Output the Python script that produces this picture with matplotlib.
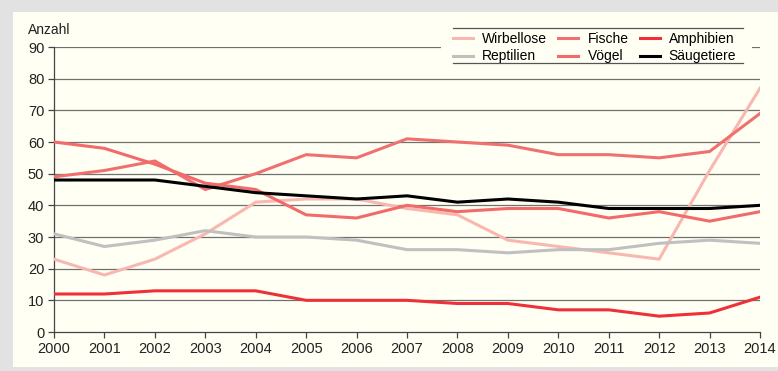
import matplotlib.pyplot as plt
from matplotlib.patches import Rectangle

plt.rcParams['font.family'] = ['Liberation Sans', 'DejaVu Sans']

years = list(range(2000, 2015))
wirbellose = [23, 18, 23, 31, 41, 42, 42, 39, 37, 29, 27, 25, 23, 51, 77]
reptilien = [31, 27, 29, 32, 30, 30, 29, 26, 26, 25, 26, 26, 28, 29, 28]
fische = [49, 51, 54, 45, 50, 56, 55, 61, 60, 59, 56, 56, 55, 57, 69]
voegel = [60, 58, 53, 47, 45, 37, 36, 40, 38, 39, 39, 36, 38, 35, 38]
amphibien = [12, 12, 13, 13, 13, 10, 10, 10, 9, 9, 7, 7, 5, 6, 11]
saeugetiere = [48, 48, 48, 46, 44, 43, 42, 43, 41, 42, 41, 39, 39, 39, 40]

W, H = 778, 371
fig = plt.figure(figsize=(W / 100, H / 100), dpi=100)
fig.patch.set_facecolor('#e2e2e2')
fig.patches.append(Rectangle((13 / W, 4 / H), (W - 13) / W, (H - 16) / H,
                             transform=fig.transFigure, facecolor='#fffff3',
                             edgecolor='none', zorder=-10))

ax = fig.add_axes([54 / W, 1 - 332 / H, (760 - 54) / W, (332 - 47) / H])
ax.set_zorder(1)
ax.set_facecolor('none')

for v in range(10, 100, 10):
    ax.axhline(v, color='#707070', lw=0.9, zorder=1)

series = [
    (wirbellose, 'Wirbellose', '#f8b8b0'),
    (reptilien, 'Reptilien', '#c0c0c0'),
    (fische, 'Fische', '#f07070'),
    (voegel, 'Vögel', '#f26a6a'),
    (amphibien, 'Amphibien', '#f03038'),
    (saeugetiere, 'Säugetiere', '#000000'),
]
for vals, name, col in series:
    ax.plot(years, vals, color=col, lw=2.2, label=name, zorder=3,
            solid_joinstyle='miter')

ax.set_xlim(2000, 2014)
ax.set_ylim(0, 90)
ax.set_xticks(years)
ax.set_yticks(range(0, 100, 10))
ax.tick_params(labelsize=10.5, color='#444444', length=4, width=0.9,
               labelcolor='#222222', pad=3)
for s in ['top', 'right']:
    ax.spines[s].set_visible(False)
for s in ['left', 'bottom']:
    ax.spines[s].set_color('#444444')
    ax.spines[s].set_linewidth(0.9)

fig.text(28 / W, 1 - 30 / H, 'Anzahl', fontsize=10, color='#222222',
         va='center', ha='left')

# legend box: cream background with rules above and below
fig.patches.append(Rectangle((441 / W, 1 - 66 / H), 311 / W, 40 / H,
                             transform=fig.transFigure, facecolor='#fffff3',
                             edgecolor='none', zorder=4))
for yy in (28, 63):
    fig.add_artist(plt.Line2D([453 / W, 743 / W], [1 - yy / H, 1 - yy / H],
                              color='#555555', lw=0.9,
                              transform=fig.transFigure, zorder=6))

handles, labels = ax.get_legend_handles_labels()
leg = fig.legend(handles, labels, ncol=3, loc='upper left',
                 bbox_to_anchor=(453 / W, 1 - 32 / H),
                 fontsize=10, handlelength=1.45, handletextpad=0.65,
                 columnspacing=0.8, labelspacing=0.25, borderpad=0,
                 frameon=False, borderaxespad=0)
leg.set_zorder(7)

fig.savefig('out.png', dpi=100, facecolor=fig.get_facecolor())
